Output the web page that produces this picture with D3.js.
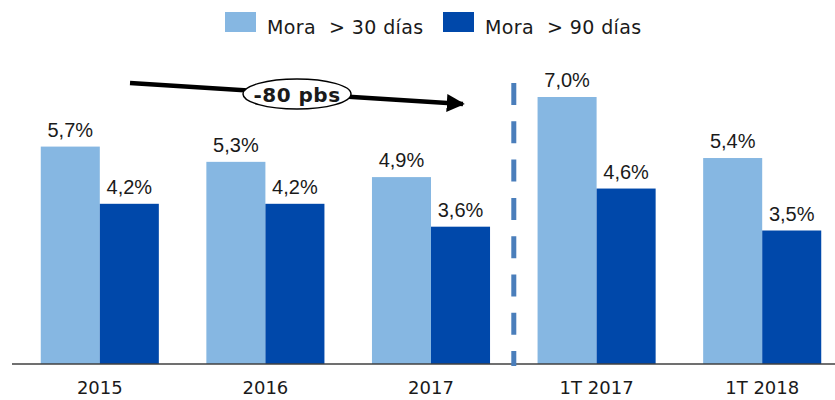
<!DOCTYPE html>
<html><head><meta charset="utf-8">
<script src="https://cdn.jsdelivr.net/npm/d3@7"></script>
<style>body{margin:0;background:#fff}svg{display:block}text{font-family:"DejaVu Sans",sans-serif;fill:#1a1a1a}</style>
</head><body><svg id="c" width="835" height="400"></svg>
<script>
const categories = ["2015","2016","2017","1T 2017","1T 2018"];
const series = ["Mora  > 30 días","Mora  > 90 días"];
const mora30 = [5.7,5.3,4.9,7.0,5.4];
const mora90 = [4.2,4.2,3.6,4.6,3.5];
const colors = ["#86B7E2","#0048AA"];
const annotation = "-80 pbs";

const svg = d3.select("#c");
const baseY = 364;
const x = d3.scaleBand().domain(categories).range([17,845]).paddingInner(0.287).paddingOuter(0.1435);
const y = d3.scaleLinear().domain([0,7]).range([baseY, baseY-267]);
const xs = d3.scaleBand().domain([0,1]).range([0, x.bandwidth()]);
const fmt = v => v.toFixed(1).replace(".", ",") + "%";

const data = categories.map((c,i)=>({c, vals:[mora30[i], mora90[i]]}));
const g = svg.selectAll("g.grp").data(data).join("g").attr("transform", d=>`translate(${x(d.c)},0)`);
g.selectAll("rect").data(d=>d.vals).join("rect")
  .attr("x",(v,j)=>xs(j)).attr("width",xs.bandwidth())
  .attr("y",v=>y(v)).attr("height",v=>baseY-y(v)).attr("fill",(v,j)=>colors[j]);
g.selectAll("text.lbl").data(d=>d.vals).join("text").attr("class","lbl")
  .attr("x",(v,j)=>xs(j)+xs.bandwidth()/2).attr("y",v=>y(v)-10)
  .attr("text-anchor","middle").attr("font-size",20)
  .style("font-family",'"Liberation Sans",sans-serif').text(fmt);

// axis
const ax = svg.append("g").attr("transform",`translate(0,${baseY})`).call(d3.axisBottom(x).tickSize(0).tickPadding(17));
ax.select(".domain").attr("stroke","#404040").attr("stroke-width",1.5).attr("d","M12,0H835");
ax.selectAll("text").attr("font-size",18).attr("fill","#1a1a1a").style("font-family",'"DejaVu Sans",sans-serif');

// dashed separator
const sepX = (x("2017")+x.bandwidth() + x("1T 2017"))/2;
svg.append("line").attr("x1",sepX).attr("x2",sepX).attr("y1",83).attr("y2",366)
  .attr("stroke","#4A7EBB").attr("stroke-width",5).attr("stroke-dasharray","22,16.3");

// arrow
const defs = svg.append("defs");
defs.append("marker").attr("id","ah").attr("viewBox","0 0 10 10").attr("refX",9).attr("refY",5)
  .attr("markerWidth",4).attr("markerHeight",4).attr("markerUnits","strokeWidth").attr("orient","auto")
  .append("path").attr("d","M0,0L10,5L0,10Z").attr("fill","#000");
svg.append("line").attr("x1",130).attr("y1",83).attr("x2",463).attr("y2",104)
  .attr("stroke","#000").attr("stroke-width",4.5).attr("marker-end","url(#ah)");
svg.append("ellipse").attr("cx",297).attr("cy",94).attr("rx",54).attr("ry",15)
  .attr("fill","#fff").attr("stroke","#000").attr("stroke-width",1.5);
svg.append("text").attr("x",297).attr("y",102).attr("text-anchor","middle")
  .attr("font-size",20).attr("font-weight","bold").style("letter-spacing","0.5px").text(annotation);

// legend
const legX = [225, 443];
const lg = svg.selectAll("g.leg").data(series).join("g").attr("class","leg")
  .attr("transform",(d,i)=>`translate(${legX[i]},12)`);
lg.append("rect").attr("width",31).attr("height",20).attr("fill",(d,i)=>colors[i]);
lg.append("text").attr("x",42).attr("y",22).attr("font-size",19).style("letter-spacing","0.4px")
  .style("white-space","pre").text(d=>d);
</script></body></html>
